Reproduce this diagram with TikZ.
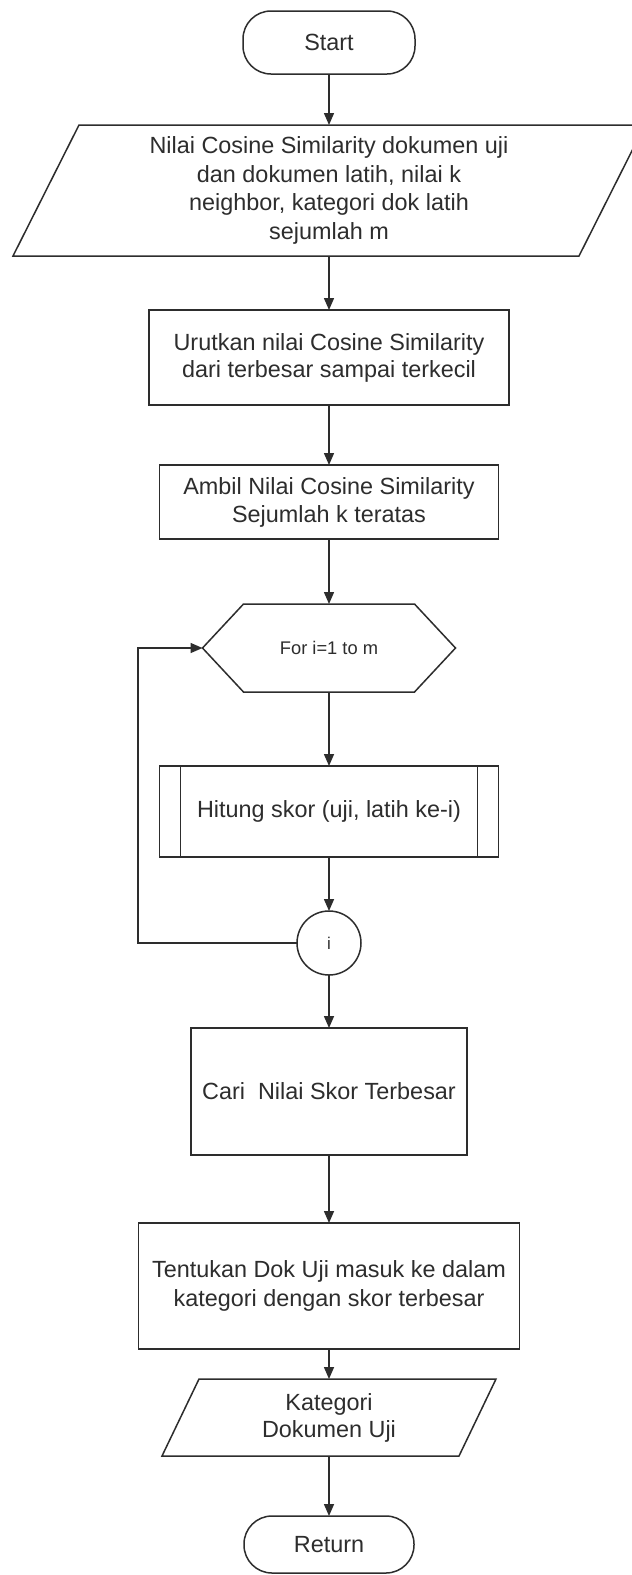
\documentclass[tikz,border=0pt]{standalone}
\usepackage{fontspec}
\setmainfont{Liberation Sans}
\usetikzlibrary{arrows.meta}
\definecolor{ink}{RGB}{45,45,45}
\begin{document}
\begin{tikzpicture}[x=1pt,y=-1pt,
  every node/.style={text=ink, font=\fontsize{23.4}{28}\selectfont, inner sep=0pt, outer sep=0pt},
  line/.style={draw=ink, line width=1.5pt},
  arr/.style={draw=ink, line width=1.5pt, -{Triangle[width=10pt,length=12pt]}},
  proc/.style={line, rectangle, align=center},
  hidden/.style={rectangle, align=center},
  term/.style={line, rounded corners=28pt, align=center},
]
\fill[white] (0,0) rectangle (632,1575);
\useasboundingbox (0,0) rectangle (632,1575);
\clip (0,0) rectangle (632,1575);

% nodes
\node[term, minimum width=172pt, minimum height=63pt] (start) at (329,42.5) {Start};

\node[hidden, minimum width=632pt, minimum height=131pt,
      font=\fontsize{23.4}{28.5}\selectfont] (inp) at (329,190.5)
  {Nilai Cosine Similarity dokumen uji\\dan dokumen latih, nilai k\\neighbor, kategori dok latih\\sejumlah m};
\draw[line] ([xshift=66pt]inp.north west) -- (inp.north east)
  -- ([xshift=-66pt]inp.south east) -- (inp.south west) -- cycle;

\node[proc, minimum width=360pt, minimum height=95pt,
      font=\fontsize{23.4}{27}\selectfont] (urut) at (329,357.5)
  {Urutkan nilai Cosine Similarity\\dari terbesar sampai terkecil};

\node[proc, minimum width=339pt, minimum height=74pt] (ambil) at (329,502)
  {Ambil Nilai Cosine Similarity\\Sejumlah k teratas};

\node[hidden, minimum width=253pt, minimum height=88pt,
      font=\fontsize{18.3}{22}\selectfont] (hex) at (329,648) {For i=1 to m};
\draw[line] (hex.west) -- ([xshift=41pt]hex.north west) -- ([xshift=-41pt]hex.north east)
  -- (hex.east) -- ([xshift=-41pt]hex.south east) -- ([xshift=41pt]hex.south west) -- cycle;

\node[proc, minimum width=339pt, minimum height=91pt] (hit) at (329,811.5)
  {Hitung skor (uji, latih ke-i)};
\draw[line] ([xshift=21pt]hit.north west) -- ([xshift=21pt]hit.south west);
\draw[line] ([xshift=-21pt]hit.north east) -- ([xshift=-21pt]hit.south east);

\node[line, circle, minimum size=64pt, font=\fontsize{17}{20}\selectfont] (ci) at (329,943) {i};
\coordinate (lp) at (138,943);

\node[proc, minimum width=276pt, minimum height=127pt] (cari) at (329,1091.5)
  {Cari\ \ Nilai Skor Terbesar};

\node[proc, minimum width=381pt, minimum height=126pt,
      font=\fontsize{23.4}{29}\selectfont] (tent) at (329,1286)
  {Tentukan Dok Uji masuk ke dalam\\kategori dengan skor terbesar};

\node[hidden, minimum width=334pt, minimum height=77pt,
      font=\fontsize{23.4}{27}\selectfont] (out) at (329,1417.5)
  {Kategori\\Dokumen Uji};
\draw[line] ([xshift=37pt]out.north west) -- (out.north east)
  -- ([xshift=-37pt]out.south east) -- (out.south west) -- cycle;

\node[term, minimum width=170pt, minimum height=57pt] (ret) at (329,1544.5) {Return};

% connectors
\draw[arr] (start.south) -- (inp.north);
\draw[arr] (inp.south) -- (urut.north);
\draw[arr] (urut.south) -- (ambil.north);
\draw[arr] (ambil.south) -- (hex.north);
\draw[arr] (hex.south) -- (hit.north);
\draw[arr] (hit.south) -- (ci.north);
\draw[arr] (ci.west) -- (lp) |- (hex.west);
\draw[arr] (ci.south) -- (cari.north);
\draw[arr] (cari.south) -- (tent.north);
\draw[arr] (tent.south) -- (out.north);
\draw[arr] (out.south) -- (ret.north);
\end{tikzpicture}
\end{document}
